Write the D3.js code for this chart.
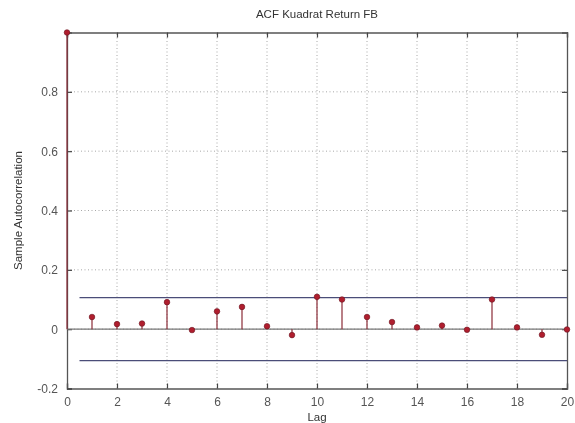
<!DOCTYPE html>
<html>
<head>
<meta charset="utf-8">
<script src="https://cdn.jsdelivr.net/npm/d3@7"></script>
<style>
  html, body { margin: 0; padding: 0; background: #fff; }
  svg { display: block; font-family: Arial, "Liberation Sans", sans-serif; }
</style>
</head>
<body>
<svg id="chart" width="575" height="423"></svg>
<script>
// Sample autocorrelation of squared FB returns, lags 0..20
const lags = d3.range(0, 21);
const acf = [1.0, 0.041, 0.017, 0.019, 0.091, -0.003, 0.060, 0.075, 0.010, -0.020,
             0.109, 0.100, 0.041, 0.024, 0.006, 0.012, -0.002, 0.100, 0.006, -0.019, -0.001];
const bound = 0.106;
const xTicks = [0, 2, 4, 6, 8, 10, 12, 14, 16, 18, 20];
const yTicks = [-0.2, 0, 0.2, 0.4, 0.6, 0.8];
const yTickLabels = ["-0.2", "0", "0.2", "0.4", "0.6", "0.8"];

const svg = d3.select("#chart");
const m = { left: 67, right: 8, top: 32.5, bottom: 34.5 };
const W = 575, H = 423;

const x = d3.scaleLinear().domain([0, 20]).range([m.left, W - m.right]);
const y = d3.scaleLinear().domain([-0.2, 1.0]).range([H - m.bottom, m.top]);

const root = svg.append("g").style("filter", "blur(0.45px)");

// dotted grid
const grid = root.append("g").attr("stroke", "#a8a8a8").attr("stroke-width", 1)
  .attr("stroke-dasharray", "1,2.5");
grid.selectAll(".gx").data(xTicks.slice(1, -1)).join("line")
  .attr("x1", d => x(d)).attr("x2", d => x(d))
  .attr("y1", y(-0.2)).attr("y2", y(1.0));
grid.selectAll(".gy").data(yTicks.slice(1)).join("line")
  .attr("x1", x(0)).attr("x2", x(20))
  .attr("y1", d => y(d)).attr("y2", d => y(d));

// axes with inward ticks
const xAxis = d3.axisBottom(x).tickValues(xTicks).tickSize(-5).tickPadding(9).tickFormat(d3.format("d"));
const gx = root.append("g").attr("transform", `translate(0,${y(-0.2)})`).call(xAxis);
const xAxisTop = d3.axisTop(x).tickValues(xTicks).tickSize(-5).tickFormat("");
const gxt = root.append("g").attr("transform", `translate(0,${y(1.0)})`).call(xAxisTop);
const yAxis = d3.axisLeft(y).tickValues(yTicks).tickSize(-5).tickPadding(9)
  .tickFormat((d, i) => yTickLabels[i]);
const gy = root.append("g").attr("transform", `translate(${x(0)},0)`).call(yAxis);
const yAxisRight = d3.axisRight(y).tickValues(yTicks).tickSize(-5).tickFormat("");
const gyr = root.append("g").attr("transform", `translate(${x(20)},0)`).call(yAxisRight);

[gx, gxt, gy, gyr].forEach(g => {
  g.select(".domain").attr("stroke", "#555").attr("stroke-width", 1.3);
  g.selectAll(".tick line").attr("stroke", "#444").attr("stroke-width", 1.2);
  g.selectAll(".tick text").attr("fill", "#555").style("font-size", "12px")
    .style("font-family", "Arial, 'Liberation Sans', sans-serif");
});
gx.selectAll(".tick text").attr("dy", "0.71em");

// zero line
root.append("line")
  .attr("x1", x(0)).attr("x2", x(20))
  .attr("y1", y(0)).attr("y2", y(0))
  .attr("stroke", "#777").attr("stroke-width", 1.4);

// confidence bounds
root.selectAll(".bound").data([bound, -bound]).join("line")
  .attr("x1", x(0.5)).attr("x2", x(20))
  .attr("y1", d => y(d)).attr("y2", d => y(d))
  .attr("stroke", "#4a4d78").attr("stroke-width", 1.2);

// stems
const pts = lags.map((l, i) => ({ lag: l, v: acf[i] }));
root.selectAll(".stem").data(pts).join("line")
  .attr("x1", d => x(d.lag)).attr("x2", d => x(d.lag))
  .attr("y1", y(0)).attr("y2", d => y(d.v))
  .attr("stroke", "#8a2a36").attr("stroke-width", 1.2);

// markers
root.selectAll(".dot").data(pts).join("circle")
  .attr("cx", d => x(d.lag)).attr("cy", d => y(d.v))
  .attr("r", 2.8)
  .attr("fill", "#b01e2e").attr("stroke", "#6a1420").attr("stroke-width", 0.6);

// title and axis labels
root.append("text").attr("x", (x(0) + x(20)) / 2).attr("y", 18)
  .attr("text-anchor", "middle").attr("fill", "#333").style("font-size", "11.5px")
  .text("ACF Kuadrat Return FB");
root.append("text").attr("x", (x(0) + x(20)) / 2).attr("y", 421)
  .attr("text-anchor", "middle").attr("fill", "#333").style("font-size", "11.5px")
  .text("Lag");
root.append("text")
  .attr("transform", `translate(22,${(y(-0.2) + y(1.0)) / 2}) rotate(-90)`)
  .attr("text-anchor", "middle").attr("fill", "#333").style("font-size", "11.5px")
  .text("Sample Autocorrelation");
</script>
</body>
</html>
